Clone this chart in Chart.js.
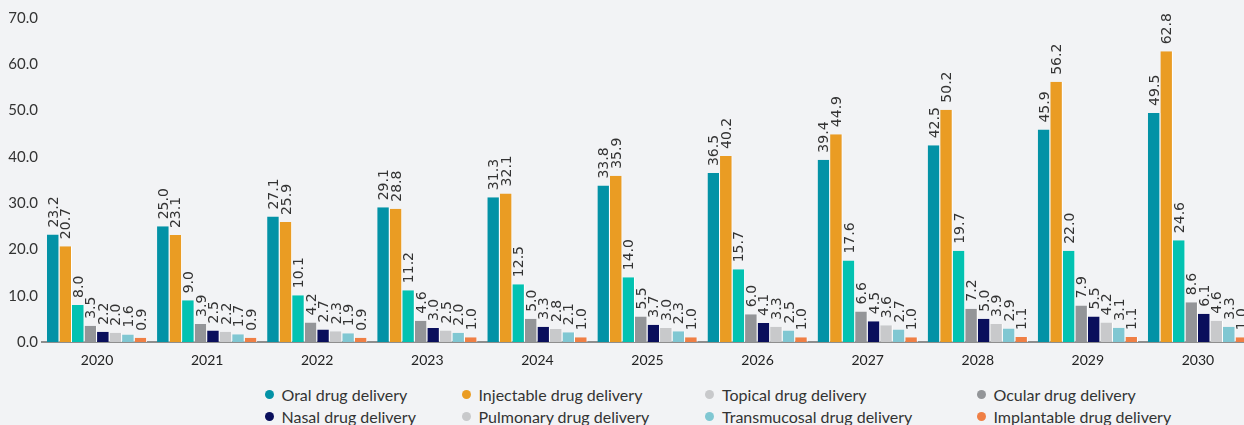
<!DOCTYPE html>
<html>
<head>
<meta charset="utf-8">
<script src="https://cdn.jsdelivr.net/npm/chart.js@4.4.1/dist/chart.umd.min.js"></script>
<style>
  html, body { margin: 0; padding: 0; background: #f2f3f5; overflow: hidden; }
  body { width: 1244px; height: 425px; position: relative; }
  #wrap { position: absolute; left: 0; top: 0; width: 1253px; height: 372px; }
  #legend {
    position: absolute; left: 264.5px; top: 383px;
    display: grid; grid-template-columns: 197px 243.5px 271.5px auto; row-gap: 0.7px;
    font-family: Lato, sans-serif; font-size: 16px; color: #333;
  }
  .item { display: flex; align-items: center; height: 22px; white-space: nowrap; }
  .dot { width: 9px; height: 9px; border-radius: 50%; margin-right: 8px; flex: none; }
</style>
</head>
<body>
<div id="wrap"><canvas id="chart"></canvas></div>
<div id="legend"></div>
<script>
// ── 데이터 ──────────────────────────────────────────────
const years = ['2020', '2021', '2022', '2023', '2024', '2025', '2026', '2027', '2028', '2029', '2030'];

const oral         = [23.2, 25.0, 27.1, 29.1, 31.3, 33.8, 36.5, 39.4, 42.5, 45.9, 49.5];
const injectable   = [20.7, 23.1, 25.9, 28.8, 32.1, 35.9, 40.2, 44.9, 50.2, 56.2, 62.8];
// 원본 그림에서 2029/2030 막대 높이가 표시값과 다름 → 막대값과 표시값 분리
const topical        = [8.0, 9.0, 10.1, 11.2, 12.5, 14.0, 15.7, 17.6, 19.7, 19.7, 22.0];
const topicalPrinted = [8.0, 9.0, 10.1, 11.2, 12.5, 14.0, 15.7, 17.6, 19.7, 22.0, 24.6];
const ocular       = [3.5, 3.9, 4.2, 4.6, 5.0, 5.5, 6.0, 6.6, 7.2, 7.9, 8.6];
const nasal        = [2.2, 2.5, 2.7, 3.0, 3.3, 3.7, 4.1, 4.5, 5.0, 5.5, 6.1];
const pulmonary    = [2.0, 2.2, 2.3, 2.5, 2.8, 3.0, 3.3, 3.6, 3.9, 4.2, 4.6];
const transmucosal = [1.6, 1.7, 1.9, 2.0, 2.1, 2.3, 2.5, 2.7, 2.9, 3.1, 3.3];
const implantable  = [0.9, 0.9, 0.9, 1.0, 1.0, 1.0, 1.0, 1.0, 1.1, 1.1, 1.0];

const yTicks = [0, 10, 20, 30, 40, 50, 60, 70];

const seriesNames = [
  'Oral drug delivery', 'Injectable drug delivery', 'Topical drug delivery', 'Ocular drug delivery',
  'Nasal drug delivery', 'Pulmonary drug delivery', 'Transmucosal drug delivery', 'Implantable drug delivery',
];
const seriesValues = [oral, injectable, topical, ocular, nasal, pulmonary, transmucosal, implantable];

// ── 색상 ────────────────────────────────────────────────
const BAR_COLORS = ['#0392a6', '#ea9c23', '#03c2b1', '#939598', '#0a0f5c', '#c8c9cb', '#80c7d2', '#ef7f45'];
// 범례는 원본 그대로 (Topical 점이 회색)
const LEGEND_COLORS = ['#0392a6', '#ea9c23', '#c8c9cb', '#939598', '#0a0f5c', '#c8c9cb', '#80c7d2', '#ef7f45'];

// 막대 위 세로 값 라벨
const valueLabels = {
  id: 'valueLabels',
  afterDatasetsDraw(chart) {
    const ctx = chart.ctx;
    ctx.save();
    ctx.font = '14px "DejaVu Sans"';
    ctx.fillStyle = '#333';
    ctx.textAlign = 'left';
    ctx.textBaseline = 'middle';
    chart.data.datasets.forEach((ds, di) => {
      chart.getDatasetMeta(di).data.forEach((bar, i) => {
        const shown = ds.printed ? ds.printed[i] : ds.data[i];
        ctx.save();
        ctx.translate(bar.x + 1, bar.y - 7);
        ctx.rotate(-Math.PI / 2);
        ctx.fillText(shown.toFixed(1), 0, 0);
        ctx.restore();
      });
    });
    ctx.restore();
  },
};

const datasets = seriesValues.map((vals, i) => ({
  label: seriesNames[i],
  data: vals,
  backgroundColor: BAR_COLORS[i],
  borderColor: '#ffffff',
  borderWidth: { top: 0, bottom: 0, left: 0, right: 1 },
  borderSkipped: false,
  categoryPercentage: 0.91,
  barPercentage: 1.0,
}));
datasets[2].printed = topicalPrinted;

new Chart(document.getElementById('chart'), {
  type: 'bar',
  data: { labels: years, datasets },
  options: {
    responsive: true,
    maintainAspectRatio: false,
    animation: false,
    layout: { padding: { top: 18, left: 0, right: 0, bottom: 0 } },
    plugins: { legend: { display: false }, tooltip: { enabled: false } },
    scales: {
      x: {
        grid: { display: false, drawTicks: false },
        border: { display: true, color: '#8e8e8e', width: 2 },
        ticks: { font: { family: 'Lato', size: 14 }, color: '#222', padding: 10 },
        afterFit: (s) => { s.height = 30; },
      },
      y: {
        min: 0,
        max: 70,
        afterBuildTicks: (s) => { s.ticks = yTicks.map(v => ({ value: v })); },
        grid: { display: false, drawTicks: false },
        border: { display: false },
        ticks: {
          font: { family: 'Lato', size: 15 },
          color: '#333',
          padding: 4,
          callback: (v) => Number(v).toFixed(1),
        },
        afterFit: (s) => { s.width = 42; },
      },
    },
  },
  plugins: [valueLabels],
});

// ── HTML 범례 (4열) ────────────────────────────────────
const legendEl = document.getElementById('legend');
seriesNames.forEach((name, i) => {
  const item = document.createElement('div');
  item.className = 'item';
  const dot = document.createElement('span');
  dot.className = 'dot';
  dot.style.background = LEGEND_COLORS[i];
  const txt = document.createElement('span');
  txt.textContent = name;
  item.appendChild(dot);
  item.appendChild(txt);
  legendEl.appendChild(item);
});
</script>
</body>
</html>
